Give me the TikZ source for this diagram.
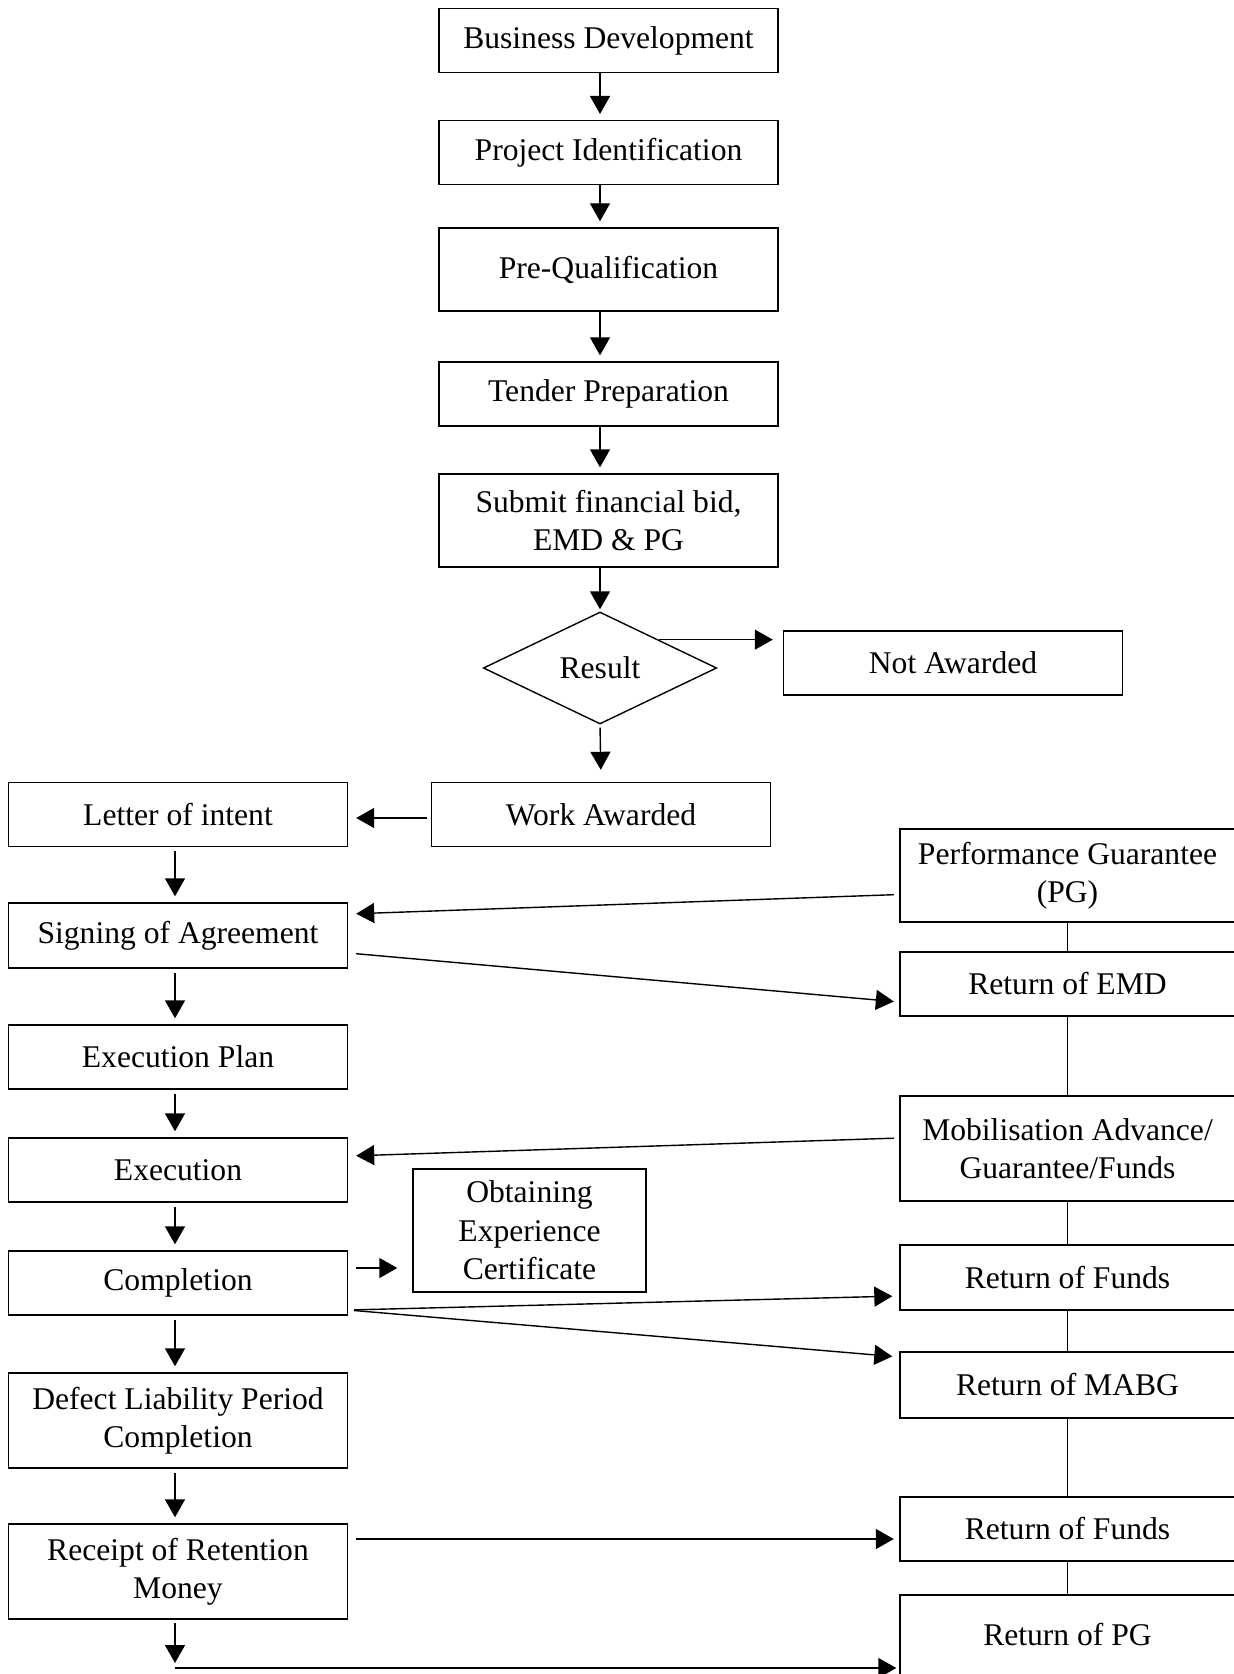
\documentclass[tikz,border=0pt]{standalone}
\usepackage{fontspec}
\setmainfont{Liberation Serif}
\usetikzlibrary{positioning,arrows.meta,shapes.geometric}

\tikzset{
  box/.style={draw, line width=0.7pt, minimum width=169.5pt, minimum height=32pt, align=center, inner sep=2pt},
  rbox/.style={box, minimum width=167.5pt},
  decision/.style={draw, line width=0.7pt, diamond, minimum width=116.7pt, minimum height=56pt, inner sep=0pt},
  arr/.style={-{Triangle[length=9pt,width=10pt]}, line width=0.7pt},
  link/.style={line width=0.7pt}
}

\begin{document}
\begin{tikzpicture}[x=0.5pt, y=-0.5pt, font=\fontsize{15.8}{19.2}\selectfont]
\useasboundingbox (0,0) rectangle (1233,1674);

% main column
\node[box] (bd) at (608.5,40.5) {Business Development};
\node[box] (pi) at (608.5,152.7) {Project Identification};
\node[box, minimum height=41.5pt] (pq) at (608.5,269.5) {Pre-Qualification};
\node[box] (tp) at (608.5,394) {Tender Preparation};
\node[box, minimum height=46.5pt] (sb) at (608.5,520.5) {Submit financial bid,\\EMD \& PG};
\node[decision] (res) at (600,668) {Result};
\node[box] (na) at (953,663) {Not Awarded};
\node[box] (wa) at (601,814.5) {Work Awarded};

% left column
\node[box] (loi) at (178,814.5) {Letter of intent};
\node[box, minimum height=32.5pt] (sa) at (178,935.5) {Signing of Agreement};
\node[box] (ep) at (178,1057) {Execution Plan};
\node[box] (ex) at (178,1170) {Execution};
\node[box] (co) at (178,1283) {Completion};
\node[box, minimum height=47.5pt] (dl) at (178,1420.5) {Defect Liability Period\\Completion};
\node[box, minimum height=47.5pt] (rr) at (178,1571.5) {Receipt of Retention\\Money};
\node[box, minimum width=116.5pt, minimum height=61.5pt] (oe) at (529.5,1230.5) {Obtaining\\Experience\\Certificate};

% right column
\node[rbox, minimum height=46.5pt] (pg) at (1067.5,875.5) {Performance Guarantee\\(PG)};
\node[rbox] (re) at (1067.5,984) {Return of EMD};
\node[rbox, minimum height=52.5pt] (ma) at (1067.5,1148.5) {Mobilisation Advance/\\Guarantee/Funds};
\node[rbox, minimum height=32.5pt] (rf1) at (1067.5,1277.5) {Return of Funds};
\node[rbox, minimum height=33pt] (rm) at (1067.5,1385) {Return of MABG};
\node[rbox] (rf2) at (1067.5,1529) {Return of Funds};
\node[rbox, minimum height=40pt] (rpg) at (1067.5,1635) {Return of PG};

\coordinate (cout) at ([yshift=7.5pt]co.east);
\coordinate (rrout) at ([yshift=16.25pt]rr.east);
\coordinate (foot) at (175,1668);

% flow down the main column
\draw[arr, shorten >=3pt] (bd.south -| res) -- (pi.north -| res);
\draw[arr, shorten >=3pt] (pi.south -| res) -- (pq.north -| res);
\draw[arr, shorten >=3pt] (pq.south -| res) -- (tp.north -| res);
\draw[arr, shorten >=3pt] (tp.south -| res) -- (sb.north -| res);
\draw[arr, shorten >=1pt] (sb.south -| res) -- (res.north);
\draw[arr, shorten >=5pt] (res.north east) -- (na.west |- res.north east);
\draw[arr, shorten <=1.5pt, shorten >=6pt] (res.south) -- (wa.north);
\draw[arr, shorten <=2pt, shorten >=4pt] ([yshift=-1.75pt]wa.west) -- ([yshift=-1.75pt]loi.east);

% left column
\draw[arr, shorten <=2pt, shorten >=3pt] ([xshift=-1.5pt]loi.south) -- ([xshift=-1.5pt]sa.north);
\draw[arr, shorten <=2pt, shorten >=3pt] ([xshift=-1.5pt]sa.south) -- ([xshift=-1.5pt]ep.north);
\draw[arr, shorten <=2pt, shorten >=3pt] ([xshift=-1.5pt]ep.south) -- ([xshift=-1.5pt]ex.north);
\draw[arr, shorten <=2pt, shorten >=3pt] ([xshift=-1.5pt]ex.south) -- ([xshift=-1.5pt]co.north);
\draw[arr, shorten <=2pt, shorten >=3pt] ([xshift=-1.5pt]co.south) -- ([xshift=-1.5pt]dl.north);
\draw[arr, shorten <=2pt, shorten >=3pt] ([xshift=-1.5pt]dl.south) -- ([xshift=-1.5pt]rr.north);
\draw[arr, shorten <=1.5pt, shorten >=2.5pt] (rr.south -| foot) -- (foot);
\draw[arr, shorten >=1.5pt] (foot) -- (foot -| rpg.west);

% links across
\draw[arr, shorten <=2.75pt, shorten >=4pt] ([yshift=-9.5pt]pg.west) -- ([yshift=10.75pt]sa.east);
\draw[arr, shorten <=4pt, shorten >=2.75pt] ([yshift=-8.75pt]sa.east) -- ([yshift=-9pt]re.west);
\draw[arr, shorten <=2.75pt, shorten >=4pt] ([yshift=5.25pt]ma.west) -- ([yshift=7pt]ex.east);
\draw[arr, shorten <=4pt, shorten >=7.5pt] (cout) -- (cout -| oe.west);
\draw[arr, shorten <=3pt, shorten >=3.5pt] ([yshift=-13.5pt]co.east) -- ([yshift=-9.25pt]rf1.west);
\draw[arr, shorten <=3pt, shorten >=3.5pt] ([yshift=-13.5pt]co.east) -- ([yshift=14pt]rm.west);
\draw[arr, shorten <=4pt, shorten >=2.75pt] (rrout) -- (rrout -| rf2.west);

% right column
\foreach \a/\b in {pg/re, re/ma, ma/rf1, rf1/rm, rm/rf2, rf2/rpg}
  \draw[link] (\a.south) -- (\b.north);
\end{tikzpicture}
\end{document}
